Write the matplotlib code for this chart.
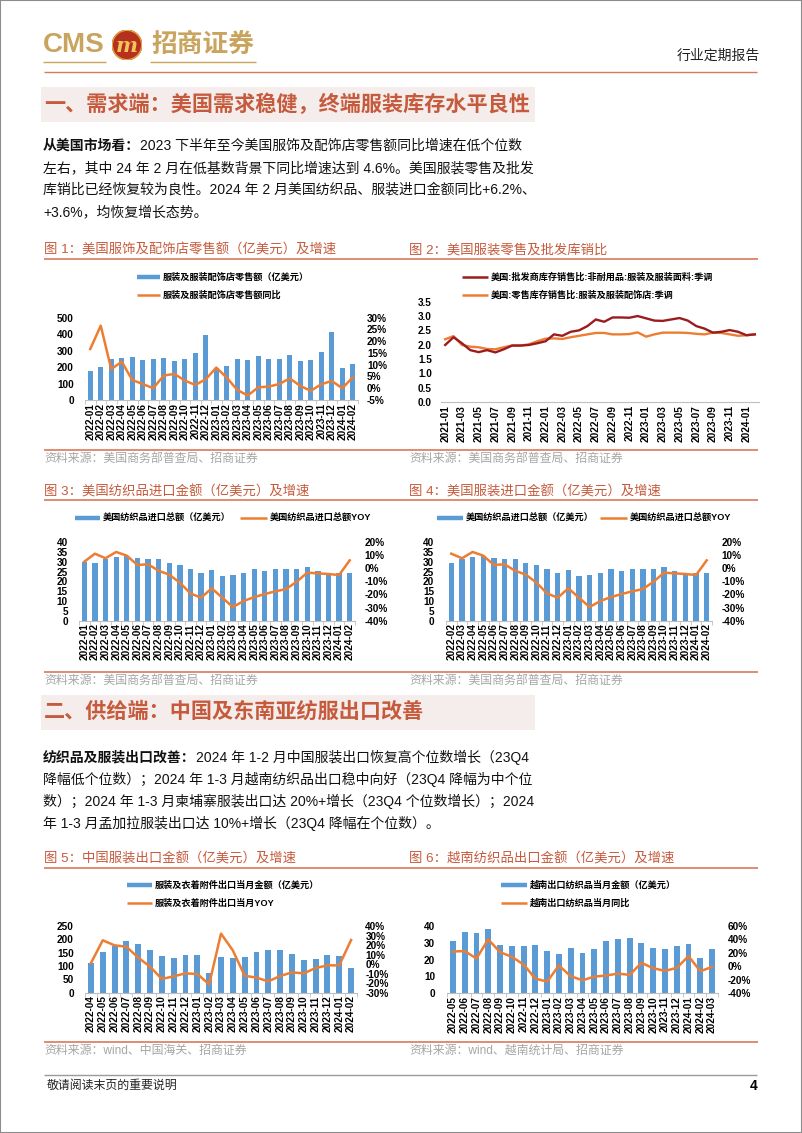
# Page 4 of a CMS industry report: two text sections and six charts
import matplotlib
matplotlib.use('Agg')
import matplotlib.pyplot as plt
from matplotlib.lines import Line2D
from matplotlib.patches import Rectangle, Circle
import numpy as np
import pandas as pd

plt.rcParams['font.family'] = ['Liberation Sans', 'Noto Sans CJK SC']

W, H = 802, 1133
BLUE = '#5B9BD5'
ORANGE = '#ED7D31'
DARKRED = '#9B1C1F'
TITLE_RED = '#C65A3C'
RULE_RED = '#D9785E'
GOLD = '#C9A45E'
GRAY_TXT = '#A6A6A6'

# Data
# Fig 1: US clothing & accessories store sales
retail_months = pd.period_range('2022-01', '2024-02', freq='M').strftime('%Y-%m').tolist()
retail_sales = [176, 200, 251, 253, 263, 245, 247, 257, 235, 247, 283, 397, 195,
                208, 247, 245, 265, 247, 251, 271, 237, 243, 289, 413, 192, 217]
retail_yoy = [16.7, 26.6, 8.1, 11.3, 3.5, 1.8, 0.0, 5.4, 6.1, 3.3, 1.4, 3.8, 8.8,
              4.5, -0.7, -3.1, 0.4, 0.7, 1.8, 4.2, 1.0, -1.1, 1.7, 3.1, 0.0, 4.6]

# Fig 2: inventory / sales ratios
ratio_months = pd.period_range('2021-01', '2024-02', freq='M').strftime('%Y-%m').tolist()
wholesale_ratio = [1.99, 2.26, 2.05, 1.81, 1.74, 1.81, 1.73, 1.84, 1.97, 1.97, 1.99, 2.05,
                   2.12, 2.36, 2.31, 2.45, 2.50, 2.65, 2.88, 2.80, 2.95, 2.95, 2.94, 3.00,
                   2.92, 2.84, 2.83, 2.88, 2.93, 2.84, 2.65, 2.56, 2.42, 2.45, 2.51, 2.45,
                   2.33, 2.36]
retail_ratio = [2.19, 2.30, 1.99, 1.93, 1.91, 1.85, 1.84, 1.91, 1.97, 1.97, 2.01, 2.12,
                2.21, 2.22, 2.20, 2.26, 2.31, 2.36, 2.41, 2.41, 2.36, 2.36, 2.37, 2.43,
                2.28, 2.36, 2.42, 2.42, 2.42, 2.41, 2.38, 2.36, 2.42, 2.41, 2.36, 2.31,
                2.33, 2.36]

# Fig 3 / Fig 4: US textile imports
import_months = pd.period_range('2022-01', '2024-02', freq='M').strftime('%Y-%m').tolist()
import_value = [30.0, 29.2, 31.4, 32.5, 32.7, 31.7, 31.4, 31.2, 29.2, 28.1, 26.1, 24.1, 25.8,
                22.7, 23.2, 24.2, 26.1, 25.4, 26.1, 26.1, 26.1, 27.3, 25.1, 23.9, 24.4, 24.2]
import_yoy = [5.0, 11.1, 7.6, 12.4, 9.6, 2.5, 3.0, -1.9, -4.9, -11.0, -19.2, -22.5, -15.3,
              -22.5, -29.6, -25.0, -22.0, -19.7, -17.6, -15.9, -10.3, -3.4, -3.9, -4.4, -5.2, 6.0]

# Fig 5: China apparel exports
cn_months = pd.period_range('2022-04', '2024-02', freq='M').strftime('%Y-%m').tolist()
cn_export = [112, 151, 176, 195, 184, 159, 136, 131, 142, 140, 75, 135,
             129, 132, 154, 159, 161, 144, 121, 125, 140, 139, 94]
cn_yoy = [1.0, 25.0, 19.7, 18.3, 6.8, -2.7, -15.6, -12.8, -9.7, -10.4, -21.2, 32.0,
          14.4, -12.2, -14.2, -18.1, -12.5, -8.7, -9.7, -4.1, -1.3, -1.3, 25.3]

# Fig 6: Vietnam textile exports
vn_months = pd.period_range('2022-05', '2024-03', freq='M').strftime('%Y-%m').tolist()
vn_export = [30.8, 36.4, 35.8, 38.0, 28.4, 27.8, 27.8, 28.4, 25.0, 23.0, 26.6, 24.0,
             26.0, 30.8, 32.0, 32.8, 29.8, 27.0, 26.0, 28.0, 29.0, 20.8, 26.0]
vn_yoy = [22.0, 22.5, 11.5, 40.0, 21.0, 14.0, 2.5, -18.5, -23.0, 1.0, -15.0, -21.0,
          -15.5, -14.0, -11.0, -13.0, 5.0, -3.0, -7.0, -2.5, 15.0, -7.5, -1.0]

fig = plt.figure(figsize=(W / 100, H / 100), dpi=100)
renderer = fig.canvas.get_renderer()


# Helpers working in pixel coordinates (origin top-left)
def px_axes(x0, y0, x1, y1):
    return fig.add_axes([x0 / W, 1 - y1 / H, (x1 - x0) / W, (y1 - y0) / H])


def ftext(x, y, s, **kw):
    kw.setdefault('va', 'center')
    return fig.text(x / W, 1 - y / H, s, **kw)


def hline(x0, x1, y, color, lw):
    fig.add_artist(Line2D([x0 / W, x1 / W], [1 - y / H, 1 - y / H], color=color, lw=lw,
                          solid_capstyle='butt'))


def legend_item(x0, x1, y, label, color, bar=False):
    hline(x0, x1, y, color, 3.2 if bar else 1.8)
    ftext(x1 + 3, y, label, fontsize=6.6, fontweight='bold')


def chart_frame(x0, x1, y_title, y_rule, y_bottom, title, source):
    ftext(x0, y_title, title, fontsize=9.6, color=TITLE_RED)
    hline(x0, x1, y_rule, RULE_RED, 1.2)
    hline(x0, x1, y_bottom, RULE_RED, 1.2)
    ftext(x0, y_bottom + 9, source, fontsize=8.6, color=GRAY_TXT)


def base_style(ax, n, labels, lpad):
    for s in ['top', 'left', 'right']:
        ax.spines[s].set_visible(False)
    ax.spines['bottom'].set_color('#BFBFBF')
    ax.spines['bottom'].set_linewidth(0.8)
    ax.set_xlim(-0.5, n - 0.5)
    ax.set_xticks(np.arange(n), labels, rotation=90, fontsize=7.2, fontweight='bold')
    ax.set_xticks(np.arange(n + 1) - 0.5, minor=True)
    ax.tick_params(axis='x', which='major', length=0, pad=2)
    ax.tick_params(axis='x', which='minor', length=3, color='#BFBFBF')
    ax.tick_params(axis='y', length=0, pad=lpad)
    ax.patch.set_alpha(0)


def bar_line_chart(rect, labels, bars, yoy, yticks, rticks, lpad=8, rpad=7):
    ax = px_axes(*rect)
    n = len(labels)
    x = np.arange(n)
    ax.bar(x, bars, width=0.5, color=BLUE, zorder=2)
    base_style(ax, n, labels, lpad)
    ax.set_ylim(yticks[0], yticks[-1])
    ax.set_yticks(yticks, [str(v) for v in yticks], fontsize=7.2, fontweight='bold')
    ax2 = ax.twinx()
    ax2.plot(x, yoy, color=ORANGE, lw=1.8, zorder=3)
    ax2.set_ylim(rticks[0], rticks[-1])
    ax2.set_yticks(rticks, [f'{v}%' for v in rticks], fontsize=7.2, fontweight='bold')
    for s in ['top', 'left', 'right', 'bottom']:
        ax2.spines[s].set_visible(False)
    ax2.tick_params(axis='y', length=0, pad=rpad)
    return ax, ax2


# Page frame
fig.add_artist(Rectangle((0, 0), 1, 1, transform=fig.transFigure, fill=False,
                         edgecolor='#8C8C8C', lw=1.5))

# Header
ftext(43, 45, 'CMS', fontsize=20, fontweight='bold', color=GOLD)
hline(43, 106, 62, GOLD, 1.0)
logo = px_axes(112, 30, 142, 60)
logo.set_xlim(-1, 1)
logo.set_ylim(-1, 1)
logo.set_aspect('equal')
logo.axis('off')
logo.add_patch(Circle((0, 0), 0.98, color='#B5301F'))
logo.add_patch(Circle((0, 0), 0.98, fill=False, edgecolor='#E3A23B', lw=1.0))
logo.text(0, -0.05, 'm', ha='center', va='center', fontsize=15, fontweight='bold',
          style='italic', color='#F2C55C', family='DejaVu Serif')
ftext(151, 45, '招商证券', fontsize=18.5, fontweight='bold', color=GOLD)
hline(150, 256, 62, GOLD, 1.0)
ftext(760, 56, '行业定期报告', fontsize=10, ha='right', color='#222222')
hline(44, 757, 72, RULE_RED, 1.0)

# Section 1
fig.add_artist(Rectangle((41 / W, 1 - 122 / H), 494 / W, 35 / H, transform=fig.transFigure,
                         color='#F4EDEB', lw=0))
ftext(44, 104, '一、需求端：美国需求稳健，终端服装库存水平良性', fontsize=15.2,
      fontweight='bold', color=TITLE_RED)


def rich_line(x, y, bold, rest, size=10):
    x_rest = x
    if bold:
        t = ftext(x, y, bold, fontsize=size, fontweight='bold', color='#111111')
        x_rest = x + t.get_window_extent(renderer).width
    ftext(x_rest, y, rest, fontsize=size, color='#111111')


para1 = [('从美国市场看：', '2023 下半年至今美国服饰及配饰店零售额同比增速在低个位数'),
         ('', '左右，其中 24 年 2 月在低基数背景下同比增速达到 4.6%。美国服装零售及批发'),
         ('', '库销比已经恢复较为良性。2024 年 2 月美国纺织品、服装进口金额同比+6.2%、'),
         ('', '+3.6%，均恢复增长态势。')]
for i, (b, r) in enumerate(para1):
    rich_line(43, 146 + 22 * i, b, r)

# Fig 1
chart_frame(44, 400, 250, 259, 450, '图 1：美国服饰及配饰店零售额（亿美元）及增速',
            '资料来源：美国商务部普查局、招商证券')
legend_item(137, 160, 277, '服装及服装配饰店零售额（亿美元）', BLUE, bar=True)
legend_item(137, 160, 295, '服装及服装配饰店零售额同比', ORANGE)
bar_line_chart((85, 317.7, 358, 400), retail_months, retail_sales, retail_yoy,
               [0, 100, 200, 300, 400, 500], [-5, 0, 5, 10, 15, 20, 25, 30], lpad=8, rpad=6.5)

# Fig 2
chart_frame(409, 758, 250, 259, 450, '图 2：美国服装零售及批发库销比',
            '资料来源：美国商务部普查局、招商证券')
hline(400, 409, 259, RULE_RED, 1.2)
hline(400, 409, 450, RULE_RED, 1.2)
legend_item(462, 488, 277, '美国:批发商库存销售比:非耐用品:服装及服装面料:季调', DARKRED)
legend_item(462, 488, 295, '美国:零售库存销售比:服装及服装配饰店:季调', ORANGE)
ax = px_axes(441, 301.7, 759, 402)
n2 = len(ratio_months)
x2 = np.arange(n2)
ax.plot(x2, wholesale_ratio, color=DARKRED, lw=1.7, zorder=3)
ax.plot(x2, retail_ratio, color=ORANGE, lw=1.7, zorder=2)
base_style(ax, n2, ratio_months, 6.5)
ax.set_xticks(x2[::2], ratio_months[::2], rotation=90, fontsize=7.2, fontweight='bold')
ax.set_xticks([], minor=True)
ax.set_ylim(0, 3.5)
ax.set_yticks(np.arange(0, 3.51, 0.5), [f'{v:.1f}' for v in np.arange(0, 3.51, 0.5)],
              fontsize=7.2, fontweight='bold')

# Fig 3
chart_frame(44, 400, 492, 500, 672, '图 3：美国纺织品进口金额（亿美元）及增速',
            '资料来源：美国商务部普查局、招商证券')
legend_item(75, 100, 518, '美国纺织品进口总额（亿美元）', BLUE, bar=True)
legend_item(240, 267, 518, '美国纺织品进口总额YOY', ORANGE)
bar_line_chart((79, 542, 355, 620.7), import_months, import_value, import_yoy,
               [0, 5, 10, 15, 20, 25, 30, 35, 40], [-40, -30, -20, -10, 0, 10, 20],
               lpad=8, rpad=7)

# Fig 4
chart_frame(409, 758, 492, 500, 672, '图 4：美国服装进口金额（亿美元）及增速',
            '资料来源：美国商务部普查局、招商证券')
hline(400, 409, 500, RULE_RED, 1.2)
hline(400, 409, 672, RULE_RED, 1.2)
legend_item(437, 463, 518, '美国纺织品进口总额（亿美元）', BLUE, bar=True)
legend_item(600, 627, 518, '美国纺织品进口总额YOY', ORANGE)
bar_line_chart((446, 542, 712, 620.7), import_months[1:], import_value[1:], import_yoy[1:],
               [0, 5, 10, 15, 20, 25, 30, 35, 40], [-40, -30, -20, -10, 0, 10, 20],
               lpad=8.5, rpad=7)

# Section 2
fig.add_artist(Rectangle((41 / W, 1 - 730 / H), 494 / W, 35 / H, transform=fig.transFigure,
                         color='#F4EDEB', lw=0))
ftext(44, 712, '二、供给端：中国及东南亚纺服出口改善', fontsize=15.2,
      fontweight='bold', color=TITLE_RED)
para2 = [('纺织品及服装出口改善：', '2024 年 1-2 月中国服装出口恢复高个位数增长（23Q4'),
         ('', '降幅低个位数）；2024 年 1-3 月越南纺织品出口稳中向好（23Q4 降幅为中个位'),
         ('', '数）；2024 年 1-3 月柬埔寨服装出口达 20%+增长（23Q4 个位数增长）；2024'),
         ('', '年 1-3 月孟加拉服装出口达 10%+增长（23Q4 降幅在个位数）。')]
for i, (b, r) in enumerate(para2):
    rich_line(43, 757 + 22 * i, b, r)

# Fig 5
chart_frame(44, 400, 859, 868, 1042, '图 5：中国服装出口金额（亿美元）及增速',
            '资料来源：wind、中国海关、招商证券')
legend_item(127, 152, 885, '服装及衣着附件出口当月金额（亿美元）', BLUE, bar=True)
legend_item(127, 152, 903, '服装及衣着附件出口当月YOY', ORANGE)
bar_line_chart((85, 926, 357, 992.7), cn_months, cn_export, cn_yoy,
               [0, 50, 100, 150, 200, 250], [-30, -20, -10, 0, 10, 20, 30, 40],
               lpad=8, rpad=6)

# Fig 6
chart_frame(409, 758, 859, 868, 1042, '图 6：越南纺织品出口金额（亿美元）及增速',
            '资料来源：wind、越南统计局、招商证券')
hline(400, 409, 868, RULE_RED, 1.2)
hline(400, 409, 1042, RULE_RED, 1.2)
legend_item(501, 527, 885, '越南出口纺织品当月金额（亿美元）', BLUE, bar=True)
legend_item(501, 527, 903, '越南出口纺织品当月同比', ORANGE)
bar_line_chart((447, 926, 718, 993), vn_months, vn_export, vn_yoy,
               [0, 10, 20, 30, 40], [-40, -20, 0, 20, 40, 60], lpad=8.5, rpad=7)

# Footer
hline(44, 757, 1075, '#9A9A9A', 1.0)
ftext(47, 1086, '敬请阅读末页的重要说明', fontsize=8.6, color='#222222')
ftext(757, 1086, '4', fontsize=10, fontweight='bold', ha='right')

fig.savefig('out.png', dpi=100)
plt.close(fig)
